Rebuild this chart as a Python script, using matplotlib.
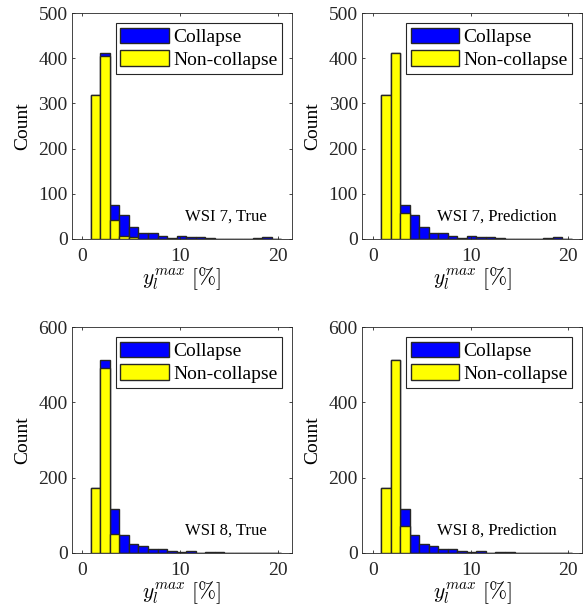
import numpy as np
import matplotlib
matplotlib.use("Agg")
import matplotlib.pyplot as plt

plt.rcParams['font.family'] = ['Liberation Serif', 'DejaVu Serif']
plt.rcParams['mathtext.fontset'] = 'cm'

# histogram bins (20 bins, y_l^max in %)
bin_edges = 0.85 + 0.975 * np.arange(21)

# WSI 7 counts per bin
wsi7_collapse = [319, 413, 75, 52, 25, 12, 12, 6, 1, 5, 3, 4, 1, 0, 0, 0, 0, 1, 4, 0]
wsi7_true_noncollapse = [319, 406, 42, 6, 4, 0, 0, 0, 0, 0, 0, 0, 0, 0, 0, 0, 0, 0, 0, 0]
wsi7_pred_noncollapse = [319, 413, 58, 0, 0, 0, 0, 0, 0, 0, 0, 0, 0, 0, 0, 0, 0, 0, 0, 0]

# WSI 8 counts per bin
wsi8_collapse = [173, 512, 117, 47, 22, 17, 11, 11, 5, 2, 4, 0, 3, 2, 0, 0, 0, 0, 0, 0]
wsi8_true_noncollapse = [173, 491, 49, 0, 0, 0, 0, 0, 0, 0, 0, 0, 0, 0, 0, 0, 0, 0, 0, 0]
wsi8_pred_noncollapse = [173, 512, 70, 0, 0, 0, 0, 0, 0, 0, 0, 0, 0, 0, 0, 0, 0, 0, 0, 0]

panels = [
    ("WSI 7, True", wsi7_collapse, wsi7_true_noncollapse, [0, 100, 200, 300, 400, 500], 500),
    ("WSI 7, Prediction", wsi7_collapse, wsi7_pred_noncollapse, [0, 100, 200, 300, 400, 500], 500),
    ("WSI 8, True", wsi8_collapse, wsi8_true_noncollapse, [0, 200, 400, 600], 600),
    ("WSI 8, Prediction", wsi8_collapse, wsi8_pred_noncollapse, [0, 200, 400, 600], 600),
]

positions = [
    [0.1222, 0.6087, 0.3748, 0.3695],
    [0.6167, 0.6087, 0.3748, 0.3695],
    [0.1222, 0.0939, 0.3748, 0.3695],
    [0.6167, 0.0939, 0.3748, 0.3695],
]

dark = '#262626'
fig = plt.figure(figsize=(5.87, 6.10), dpi=100)

widths = np.diff(bin_edges)
for (title, collapse, noncollapse, yticks, ymax), pos in zip(panels, positions):
    ax = fig.add_axes(pos)
    b1 = ax.bar(bin_edges[:-1], collapse, width=widths, align='edge', color='blue',
                edgecolor=dark, linewidth=1.0, label='Collapse')
    b2 = ax.bar(bin_edges[:-1], noncollapse, width=widths, align='edge', color='yellow',
                edgecolor=dark, linewidth=1.0, label='Non-collapse')
    ax.set_xlim(-1.1, 21.4)
    ax.set_ylim(0, ymax)
    ax.set_xticks([0, 10, 20])
    ax.set_yticks(yticks)
    ax.tick_params(direction='in', top=True, right=True, length=2.5, width=0.6,
                   colors=dark, labelsize=14, pad=3)
    ax.tick_params(axis='x', pad=7)
    for sp in ax.spines.values():
        sp.set_color(dark)
        sp.set_linewidth(0.6)
    ax.set_ylabel('Count', fontsize=14, color='black', labelpad=5)
    ax.set_xlabel(r'$y_l^{max}\ [\%]$', fontsize=15.5, color='black', labelpad=0)
    leg = ax.legend(handles=[b1, b2], loc='upper right', fontsize=14, fancybox=False,
                    framealpha=1, edgecolor=dark, handlelength=2.5, handleheight=0.85,
                    handletextpad=0.2, borderpad=0.25, labelspacing=0.2, borderaxespad=0.5)
    leg.get_frame().set_linewidth(0.8)
    ax.text(0.885, 0.1, title, transform=ax.transAxes, ha='right', va='center', fontsize=12)

fig.savefig('out.png', dpi=100)
